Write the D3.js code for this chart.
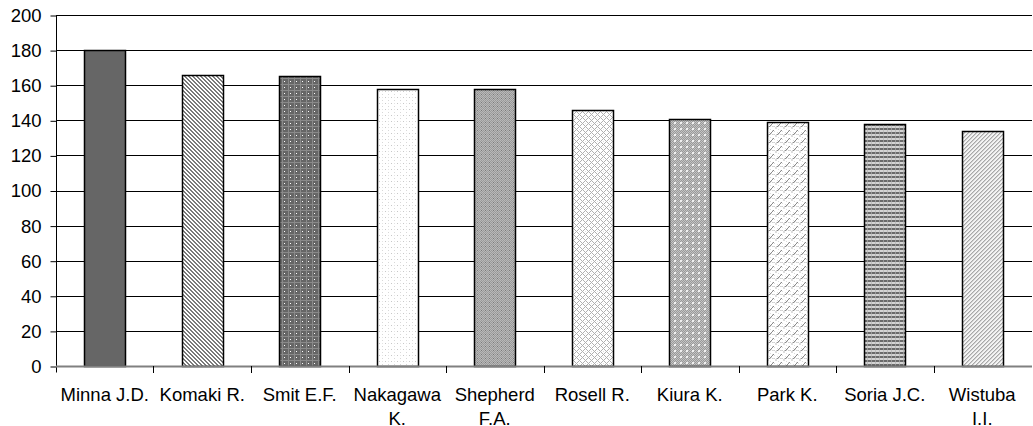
<!DOCTYPE html>
<html>
<head>
<meta charset="utf-8">
<script src="https://cdn.jsdelivr.net/npm/d3@7"></script>
<style>
  html, body { margin: 0; padding: 0; background: #fff; }
  svg { display: block; font-family: "Liberation Sans", Arial, sans-serif; }
</style>
</head>
<body>
<svg id="chart" width="1033" height="426"></svg>
<script>
// Authors and their values
const authors = ["Minna J.D.", "Komaki R.", "Smit E.F.", "Nakagawa K.", "Shepherd F.A.",
                 "Rosell R.", "Kiura K.", "Park K.", "Soria J.C.", "Wistuba I.I."];
const counts = [180, 166, 165, 158, 158, 146, 141, 139, 138, 134];
const yTicks = [0, 20, 40, 60, 80, 100, 120, 140, 160, 180, 200];

const svg = d3.select("#chart");
const W = 1033, H = 426;
const m = { left: 56, right: 1, top: 15, bottom: 60 };
const FONT = 18.5;

const x = d3.scaleBand().domain(authors).range([m.left, W - m.right - 1])
  .paddingInner(0.58).paddingOuter(0.29);
const y = d3.scaleLinear().domain([0, 200]).range([H - m.bottom, m.top]);

// ---- pixel fill patterns (one per bar) ----
const defs = svg.append("defs");
function pixelPattern(id, size, bg, pixels) {
  const p = defs.append("pattern").attr("id", id).attr("patternUnits", "userSpaceOnUse")
    .attr("width", size).attr("height", size);
  p.append("rect").attr("width", size).attr("height", size).attr("fill", bg);
  pixels.forEach(([px, py, c]) => p.append("rect").attr("x", px).attr("y", py)
    .attr("width", 1).attr("height", 1).attr("fill", c));
  return "url(#" + id + ")";
}
function grid(size, fn) {
  const out = [];
  for (let j = 0; j < size; j++) for (let i = 0; i < size; i++) {
    const c = fn(i, j); if (c) out.push([i, j, c]);
  }
  return out;
}
const fills = [
  "#666666",
  // downward diagonal stripes
  pixelPattern("p1", 4, "#ffffff", grid(4, (i, j) => ((i - j + 8) % 4 < 2) ? "#7a7a7a" : null)),
  // dark small grid with light dots
  pixelPattern("p2", 6, "#666666", grid(6, (i, j) =>
    (i === 2 && j === 3) ? "#ffffff" : (i === 0 || j === 0) ? "#8a8a8a" : null)),
  // sparse light dots
  pixelPattern("p3", 6, "#ffffff", grid(6, (i, j) =>
    (i === 1 && j === 1) ? "#c8c8c8" : (i === 4 && j === 4) ? "#d8d8d8" : (i === 4 && j === 1) ? "#e4e4e4" : null)),
  // medium checker
  pixelPattern("p4", 4, "#9a9a9a", grid(4, (i, j) =>
    ((i + j) % 2 === 0) ? "#b8b8b8" : (i === 1 && j === 2) ? "#7a7a7a" : null)),
  // light diamond lattice
  pixelPattern("p5", 6, "#ffffff", grid(6, (i, j) => {
    const d = Math.abs(i - 3) + Math.abs(j - 3);
    return d === 3 ? "#b0b0b0" : d === 0 ? "#e0e0e0" : null;
  })),
  // mottled checker with light holes
  pixelPattern("p6", 6, "#999999", grid(6, (i, j) => {
    if ((i === 2 || i === 3) && (j === 2 || j === 3)) return "#f0f0f0";
    return ((i + j) % 2 === 0) ? "#c4c4c4" : null;
  })),
  // light divot strokes
  pixelPattern("p7", 8, "#ffffff", grid(8, (i, j) => {
    if (i + j === 7 && i >= 1 && i <= 5) return "#8a8a8a";
    if ((i + j) % 2 === 0 && j === 6) return "#d0d0d0";
    return ((i * 3 + j) % 7 === 0) ? "#dcdcdc" : null;
  })),
  // horizontal stripes
  pixelPattern("p8", 4, "#d4d4d4", grid(4, (i, j) =>
    (j === 0 || j === 1) ? (i === 3 ? "#9a9a9a" : "#6a6a6a") : (i === 3 ? "#bcbcbc" : null))),
  // light upward diagonal
  pixelPattern("p9", 4, "#f4f4f4", grid(4, (i, j) => ((i + j) % 4 === 0) ? "#a8a8a8" : ((i + j) % 4 === 1 ? "#d0d0d0" : null)))
];

// ---- gridlines ----
svg.append("g").selectAll("line").data(yTicks.filter(d => d > 0)).join("line")
  .attr("x1", m.left).attr("x2", W - m.right)
  .attr("y1", d => Math.round(y(d)) + 0.5).attr("y2", d => Math.round(y(d)) + 0.5)
  .attr("stroke", "#000").attr("stroke-width", 1);

// ---- y axis ----
const yAxis = svg.append("g").attr("transform", `translate(${m.left + 0.5},0.5)`)
  .call(d3.axisLeft(y).tickValues(yTicks).tickSize(6).tickPadding(9).tickFormat(d3.format("d")));
yAxis.select(".domain").attr("d", `M0,${Math.round(y(200))}V${Math.round(y(0)) + 6}`).attr("stroke", "#000");
yAxis.selectAll(".tick line").attr("stroke", "#000");
yAxis.selectAll(".tick text").attr("font-size", FONT).attr("fill", "#000")
  .attr("font-family", "'Liberation Sans', Arial, sans-serif");

// ---- bars ----
svg.append("g").selectAll("rect").data(authors).join("rect")
  .attr("x", d => Math.round(x(d)) + 0.5)
  .attr("y", (d, i) => Math.round(y(counts[i])) + 0.5)
  .attr("width", Math.round(x.bandwidth()))
  .attr("height", (d, i) => Math.round(y(0)) - Math.round(y(counts[i])))
  .attr("fill", (d, i) => fills[i])
  .attr("stroke", "#000").attr("stroke-width", 1.5);

// ---- x axis ----
const y0 = Math.round(y(0));
const xg = svg.append("g");
xg.append("line").attr("x1", m.left).attr("x2", W - m.right)
  .attr("y1", y0 + 0.5).attr("y2", y0 + 0.5).attr("stroke", "#808080").attr("stroke-width", 2);
const bounds = authors.map(d => x(d) - x.step() * x.paddingInner() / 2).slice(1);
xg.selectAll("line.tick").data(bounds).join("line").attr("class", "tick")
  .attr("x1", d => Math.round(d) + 0.5).attr("x2", d => Math.round(d) + 0.5)
  .attr("y1", y0).attr("y2", y0 + 7).attr("stroke", "#000");

// category labels, wrapped to fit the band
const maxW = 90;
const lab = xg.selectAll("text").data(authors).join("text")
  .attr("x", d => x(d) + x.bandwidth() / 2).attr("y", 401)
  .attr("text-anchor", "middle").attr("font-size", FONT).attr("fill", "#000");
lab.each(function (d) {
  const t = d3.select(this);
  const words = d.split(" ");
  let line = [], lines = [];
  const probe = t.append("tspan");
  words.forEach(w => {
    const test = line.concat([w]).join(" ");
    probe.text(test);
    if (probe.node().getComputedTextLength() > maxW && line.length) { lines.push(line.join(" ")); line = [w]; }
    else line.push(w);
  });
  lines.push(line.join(" "));
  probe.remove();
  lines.forEach((l, k) => t.append("tspan").attr("x", x(d) + x.bandwidth() / 2)
    .attr("dy", k === 0 ? 0 : 24).text(l));
});
</script>
</body>
</html>
